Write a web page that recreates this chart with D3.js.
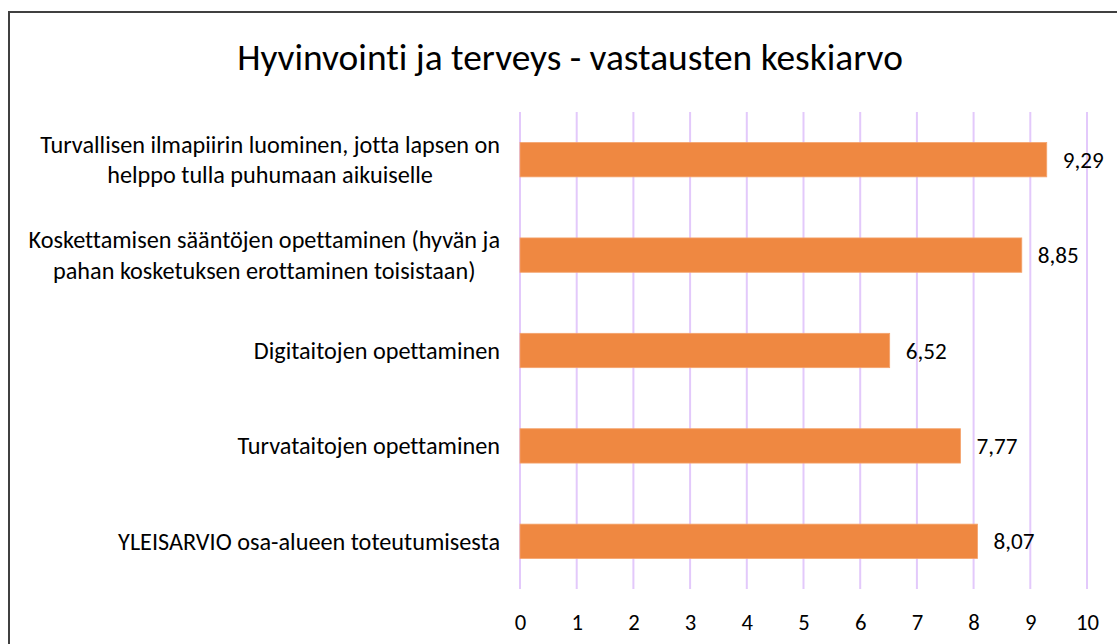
<!DOCTYPE html>
<html>
<head>
<meta charset="utf-8">
<script src="https://cdn.jsdelivr.net/npm/d3@7"></script>
<style>
html,body{margin:0;padding:0;background:#fff;}
svg{display:block;}
text{font-family:Carlito, Lato, "Open Sans", sans-serif;fill:#000;font-variant-ligatures:none;}
</style>
</head>
<body>
<svg id="chart" width="1117" height="644"></svg>
<script>
const title = "Hyvinvointi ja terveys - vastausten keskiarvo";
const categories = [
  ["Turvallisen ilmapiirin luominen, jotta lapsen on", "helppo tulla puhumaan aikuiselle"],
  ["Koskettamisen sääntöjen opettaminen (hyvän ja", "pahan kosketuksen erottaminen toisistaan)"],
  ["Digitaitojen opettaminen"],
  ["Turvataitojen opettaminen"],
  ["YLEISARVIO osa-alueen toteutumisesta"]
];
const values = [9.29, 8.85, 6.52, 7.77, 8.07];
const valueLabels = ["9,29", "8,85", "6,52", "7,77", "8,07"];
const tickValues = [0,1,2,3,4,5,6,7,8,9,10];

const svg = d3.select("#chart");
const m = {left: 520, right: 1087, top: 112, bottom: 589};

// fit a font size so that a sample string has a target width
function fitSize(sample, target) {
  const t = svg.append("text").attr("font-size", 100).text(sample);
  const w = t.node().getComputedTextLength();
  t.remove();
  return 100 * target / w;
}
const catSize = fitSize("Turvallisen ilmapiirin luominen, jotta lapsen on", 460);
const valSize = fitSize("9,29", 41);
const tickSize = fitSize("10", 23);
const titleSize = fitSize(title, 666);

svg.append("rect").attr("x", 9).attr("y", 12).attr("width", 1200).attr("height", 700)
  .attr("fill", "#fff").attr("stroke", "#404040").attr("stroke-width", 2);

const x = d3.scaleLinear().domain([0, 10]).range([m.left, m.right]);
const y = d3.scaleBand().domain(d3.range(categories.length)).range([m.top, m.bottom]).paddingInner(0.64).paddingOuter(0.32);

// gridlines
svg.append("g").selectAll("line").data(tickValues).join("line")
  .attr("x1", d => x(d)).attr("x2", d => x(d))
  .attr("y1", m.top).attr("y2", m.bottom)
  .attr("stroke", "#E3C9FB").attr("stroke-width", 2);

// x axis labels
const xAxis = d3.axisBottom(x).tickValues(tickValues).tickSize(0).tickPadding(0).tickFormat(d3.format("d"));
const gx = svg.append("g").attr("transform", `translate(0, ${m.bottom + 33})`).call(xAxis);
gx.attr("font-size", null).attr("font-family", null);
gx.select(".domain").remove();
gx.selectAll("text").attr("font-size", tickSize).attr("fill", "#000").attr("dy", "0.35em")
  .style("font-family", "Carlito, Lato, 'Open Sans', sans-serif");

// bars
svg.append("g").selectAll("rect").data(values).join("rect")
  .attr("x", x(0)).attr("y", (d, i) => y(i))
  .attr("width", d => x(d) - x(0)).attr("height", y.bandwidth())
  .attr("fill", "#EF8841").attr("stroke", "#F4A46E").attr("stroke-width", 0.8);

// value labels
svg.append("g").selectAll("text").data(values).join("text")
  .attr("x", d => x(d) + 16).attr("y", (d, i) => y(i) + y.bandwidth() / 2)
  .attr("dy", "0.35em").attr("font-size", valSize)
  .text((d, i) => valueLabels[i]);

// category labels
const catG = svg.append("g");
categories.forEach((lines, i) => {
  const cy = y(i) + y.bandwidth() / 2;
  const lh = 30.5;
  const g = catG.append("g");
  const texts = lines.map((l, j) => g.append("text")
    .attr("font-size", catSize)
    .attr("y", cy + (j - (lines.length - 1) / 2) * lh)
    .attr("dy", "0.35em").text(l));
  const maxW = d3.max(texts, t => t.node().getComputedTextLength());
  texts.forEach(t => t.attr("x", 500 - maxW / 2).attr("text-anchor", "middle"));
});

// title
svg.append("text").attr("x", 570).attr("y", 57).attr("dy", "0.35em")
  .attr("text-anchor", "middle").attr("font-size", titleSize).text(title);
</script>
</body>
</html>
